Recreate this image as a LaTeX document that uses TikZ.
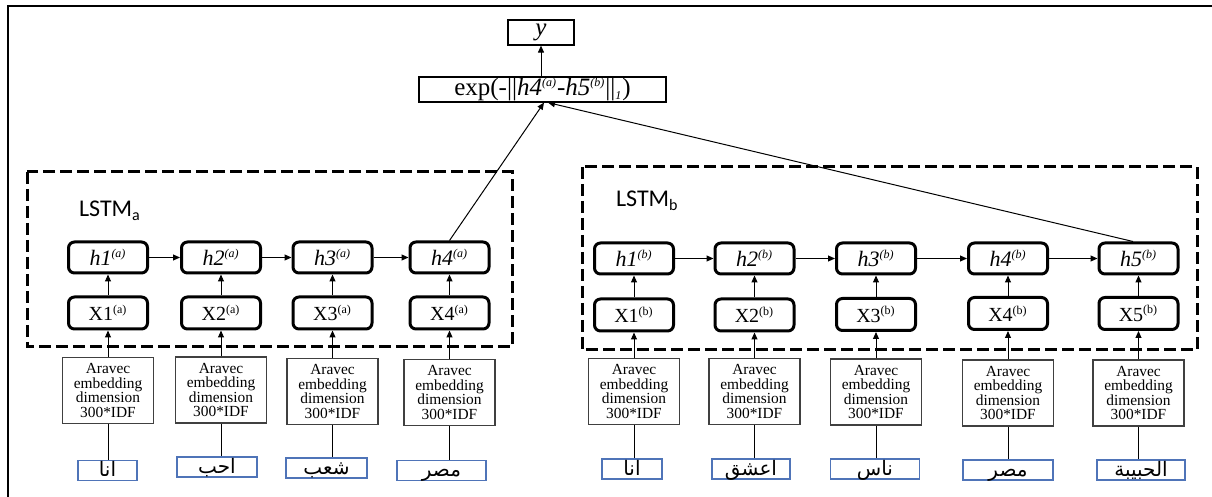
\documentclass[tikz,border=0pt]{standalone}
\usepackage{fontspec}
\setmainfont{Liberation Serif}
\setsansfont{Carlito}
\newfontfamily\arabicfont[Script=Arabic]{DejaVu Sans}
\TeXXeTstate=1
\usetikzlibrary{arrows.meta}
\definecolor{mBlue}{HTML}{4F74B8}
\definecolor{mDark}{HTML}{404040}
\newcommand{\sups}[1]{\textsuperscript{\fontsize{6}{6}\selectfont #1}}
\newcommand{\hlab}[2]{\textit{h#1}\sups{\textit{(#2)}}}
\newcommand{\xlab}[2]{X#1\sups{(#2)}}
\newcommand{\arw}[1]{{\arabicfont\beginR #1\endR}}
\newcommand{\aravec}{Aravec\\embedding\\dimension\\300*IDF}
\tikzset{
  hbox/.style={draw, rounded corners=3pt, line width=1.5pt, minimum width=39.5pt,
               minimum height=15.5pt, inner sep=0pt, font=\fontsize{11}{12}\selectfont},
  xbox/.style={hbox, minimum height=16pt, font=\fontsize{10}{12}\selectfont},
  ebox/.style={draw=mDark, line width=0.6pt, minimum width=45.5pt, minimum height=33pt,
               inner sep=0pt, align=center, font=\fontsize{7.7}{7.3}\selectfont},
  wbox/.style={draw=mBlue, line width=0.6pt, text height=8pt, text depth=1.5pt,
               inner xsep=0pt, inner ysep=0.25pt, font=\fontsize{10}{11}\selectfont},
  obox/.style={draw, line width=0.6pt, minimum height=12.5pt, inner sep=0pt,
               font=\fontsize{12.5}{14}\selectfont},
  lstmbox/.style={draw, line width=1.5pt, dash pattern=on 6pt off 2.5pt},
  lstmlab/.style={anchor=base west, font=\sffamily\fontsize{12}{13}\selectfont},
  arr/.style={-{Triangle[length=3.5pt,width=3pt]}, line width=0.5pt},
  link/.style={line width=0.5pt},
}

\begin{document}
\begin{tikzpicture}[x=0.5pt, y=-0.5pt]
    \useasboundingbox (0,0) rectangle (1212,497);
    \draw[line width=1pt] (1212,6) -- (8,6) -- (8,497);
    % output
    \node[obox, minimum width=33pt]    (out) at (541,32.5) {\textit{y}};
    \node[obox, minimum width=123.5pt] (exp) at (542.5,89.5)
      {exp(-||\hlab{4}{a}-\hlab{5}{b}||\textsubscript{\fontsize{6}{6}\selectfont\textit{1}})};
    % LSTM a
    \draw[lstmbox] (27,172) rectangle (512,347);
    \node[lstmlab] (la) at (72,217) {LSTM\textsubscript{a}};
    \node[hbox] (ha1) at (108,257.5)   {\hlab{1}{a}};
    \node[hbox] (ha2) at (221,257.5)   {\hlab{2}{a}};
    \node[hbox] (ha3) at (332.5,257.5) {\hlab{3}{a}};
    \node[hbox] (ha4) at (449.5,257.5) {\hlab{4}{a}};
    \node[xbox] (xa1) at (108,313)     {\xlab{1}{a}};
    \node[xbox] (xa2) at (221,313)     {\xlab{2}{a}};
    \node[xbox] (xa3) at (332.5,313)   {\xlab{3}{a}};
    \node[xbox] (xa4) at (449.5,313)   {\xlab{4}{a}};
    \node[ebox] (ea1) at (108,390.5)   {\aravec};
    \node[ebox] (ea2) at (221,390)     {\aravec};
    \node[ebox] (ea3) at (332.5,391.5) {\aravec};
    \node[ebox] (ea4) at (449.5,392.5) {\aravec};
    \node[wbox, minimum width=29.5pt] (wa1) at (107.5,470.5) {\arw{انا}};
    \node[wbox, minimum width=40pt]   (wa2) at (217,467)     {\arw{احب}};
    \node[wbox, minimum width=40.5pt] (wa3) at (326.5,468)   {\arw{شعب}};
    \node[wbox, minimum width=44.5pt] (wa4) at (441.5,470.5) {\arw{مصر}};
    % LSTM b
    \draw[lstmbox] (582,167) rectangle (1197,350);
    \node[lstmlab] (lb) at (609,207) {LSTM\textsubscript{b}};
    \node[hbox] (hb1) at (634,258.5)    {\hlab{1}{b}};
    \node[hbox] (hb2) at (754.5,258.5)  {\hlab{2}{b}};
    \node[hbox] (hb3) at (876,258.5)    {\hlab{3}{b}};
    \node[hbox] (hb4) at (1008,258.5)   {\hlab{4}{b}};
    \node[hbox] (hb5) at (1138.5,258.5) {\hlab{5}{b}};
    \node[xbox] (xb1) at (634,315)      {\xlab{1}{b}};
    \node[xbox] (xb2) at (754.5,315)    {\xlab{2}{b}};
    \node[xbox] (xb3) at (876,314.5)    {\xlab{3}{b}};
    \node[xbox] (xb4) at (1008,313.5)   {\xlab{4}{b}};
    \node[xbox] (xb5) at (1138.5,313.5) {\xlab{5}{b}};
    \node[ebox] (eb1) at (634,391.5)    {\aravec};
    \node[ebox] (eb2) at (754.5,391.5)  {\aravec};
    \node[ebox] (eb3) at (876,392)      {\aravec};
    \node[ebox] (eb4) at (1008,393)     {\aravec};
    \node[ebox] (eb5) at (1138.5,393)   {\aravec};
    \node[wbox, minimum width=30pt]   (wb1) at (632,469)  {\arw{انا}};
    \node[wbox, minimum width=39pt]   (wb2) at (751,469)  {\arw{اعشق}};
    \node[wbox, minimum width=44.5pt] (wb3) at (875,469)  {\arw{ناس}};
    \node[wbox, minimum width=45pt]   (wb4) at (1008,470) {\arw{مصر}};
    \node[wbox, minimum width=44pt]   (wb5) at (1141,470) {\arw{الحبيبة}};
    % connectors
    \draw[arr] (out.south |- exp.north) -- (out.south);
    \draw[arr] (ha4.north) -- ([xshift=0.75pt]exp.south);
    \draw[arr] ([xshift=-2.75pt]hb5.north) -- ([xshift=2.75pt]exp.south);
    \draw[arr] (ha1) -- (ha2);
    \draw[arr] (ha2) -- (ha3);
    \draw[arr] (ha3) -- (ha4);
    \draw[arr] (hb1) -- (hb2);
    \draw[arr] (hb2) -- (hb3);
    \draw[arr] (hb3) -- (hb4);
    \draw[arr] (hb4) -- (hb5);
    \draw[arr] (xa1) -- (ha1);
    \draw[arr] (xa2) -- (ha2);
    \draw[arr] (xa3) -- (ha3);
    \draw[arr] (xa4) -- (ha4);
    \draw[arr] (xb1) -- (hb1);
    \draw[arr] (xb2) -- (hb2);
    \draw[arr] (xb3) -- (hb3);
    \draw[arr] (xb4) -- (hb4);
    \draw[arr] (xb5) -- (hb5);
    \draw[arr] (ea1) -- (xa1);
    \draw[arr] (ea2) -- (xa2);
    \draw[arr] (ea3) -- (xa3);
    \draw[arr] (ea4) -- (xa4);
    \draw[arr] (eb1) -- (xb1);
    \draw[arr] (eb2) -- (xb2);
    \draw[arr] (eb3) -- (xb3);
    \draw[arr] (eb4) -- (xb4);
    \draw[arr] (eb5) -- (xb5);
    \draw[link] (ea1.south) -- (ea1.south |- wa1.north);
    \draw[link] (ea2.south) -- (ea2.south |- wa2.north);
    \draw[link] (ea3.south) -- (ea3.south |- wa3.north);
    \draw[link] (ea4.south) -- (ea4.south |- wa4.north);
    \draw[link] (eb1.south) -- (eb1.south |- wb1.north);
    \draw[link] (eb2.south) -- (eb2.south |- wb2.north);
    \draw[link] (eb3.south) -- (eb3.south |- wb3.north);
    \draw[link] (eb4.south) -- (eb4.south |- wb4.north);
    \draw[link] (eb5.south) -- (eb5.south |- wb5.north);
\end{tikzpicture}
\end{document}
